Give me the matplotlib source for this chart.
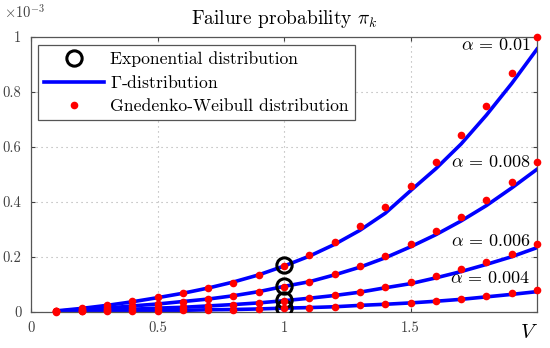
import numpy as np
import matplotlib
matplotlib.use("Agg")
import matplotlib.pyplot as plt
from matplotlib.lines import Line2D

# Values in units of 1e-3
v = [0.1, 0.2, 0.3, 0.4, 0.5, 0.6, 0.7, 0.8, 0.9, 1.0,
     1.1, 1.2, 1.3, 1.4, 1.5, 1.6, 1.7, 1.8, 1.9, 2.0]
alphas = ["0.01", "0.008", "0.006", "0.004"]

weibull_010 = [0.003, 0.013, 0.024, 0.038, 0.052, 0.067, 0.085, 0.105, 0.133, 0.165,
               0.206, 0.255, 0.313, 0.380, 0.458, 0.544, 0.643, 0.749, 0.869, 0.998]
weibull_008 = [0.002, 0.007, 0.013, 0.021, 0.028, 0.037, 0.046, 0.057, 0.072, 0.091,
               0.109, 0.136, 0.166, 0.203, 0.245, 0.293, 0.346, 0.406, 0.473, 0.544]
weibull_006 = [0.001, 0.003, 0.006, 0.009, 0.013, 0.016, 0.021, 0.026, 0.032, 0.040,
               0.050, 0.061, 0.073, 0.091, 0.107, 0.130, 0.154, 0.182, 0.210, 0.246]
weibull_004 = [0.0002, 0.001, 0.002, 0.003, 0.004, 0.005, 0.007, 0.008, 0.010, 0.013,
               0.015, 0.018, 0.024, 0.028, 0.033, 0.040, 0.047, 0.058, 0.067, 0.079]

gamma_010 = [0.003, 0.012, 0.023, 0.036, 0.051, 0.067, 0.086, 0.108, 0.134, 0.166,
             0.202, 0.245, 0.296, 0.358, 0.440, 0.520, 0.610, 0.715, 0.830, 0.955]
gamma_008 = [0.002, 0.007, 0.013, 0.021, 0.028, 0.037, 0.046, 0.058, 0.073, 0.092,
             0.109, 0.134, 0.162, 0.196, 0.236, 0.280, 0.330, 0.386, 0.450, 0.518]
gamma_006 = [0.001, 0.003, 0.006, 0.009, 0.013, 0.016, 0.021, 0.026, 0.032, 0.040,
             0.049, 0.059, 0.071, 0.087, 0.102, 0.123, 0.146, 0.172, 0.200, 0.233]
gamma_004 = [0.0002, 0.001, 0.002, 0.003, 0.004, 0.005, 0.007, 0.008, 0.010, 0.013,
             0.015, 0.018, 0.023, 0.027, 0.032, 0.038, 0.045, 0.054, 0.063, 0.073]

expo_v = [1.0, 1.0, 1.0, 1.0]
expo_p = [0.170, 0.093, 0.042, 0.012]

label_y = [0.97, 0.544, 0.257, 0.122]

plt.rcParams["font.family"] = "serif"
plt.rcParams["font.serif"] = ["cmr10"]
plt.rcParams["mathtext.fontset"] = "cm"
plt.rcParams["axes.formatter.use_mathtext"] = True

fig = plt.figure(figsize=(5.5, 3.48), dpi=100)
ax = fig.add_axes([0.0564, 0.1043, 0.92, 0.7902])

gammas = [gamma_010, gamma_008, gamma_006, gamma_004]
weibulls = [weibull_010, weibull_008, weibull_006, weibull_004]

for g in gammas:
    ax.plot(v, g, color="#0000ff", lw=2.6, zorder=2)
ax.plot(expo_v, expo_p, "o", mfc="none", mec="black", ms=11, mew=2.2, zorder=3)
for w in weibulls:
    ax.plot(v, w, "o", color="#ff0000", ms=5.5, mec="none", zorder=4, clip_on=False)

for a, y in zip(alphas, label_y):
    ax.text(1.975, y, r"$\alpha$ = " + a, ha="right", va="center", fontsize=13, zorder=5)

ax.set_xlim(0, 2)
ax.set_ylim(0, 1)
ax.set_xticks([0, 0.5, 1, 1.5])
ax.set_xticklabels(["0", "0.5", "1", "1.5"])
ax.set_yticks([0, 0.2, 0.4, 0.6, 0.8, 1])
ax.set_yticklabels(["0", "0.2", "0.4", "0.6", "0.8", "1"])
ax.tick_params(direction="in", length=3, labelsize=10.5, colors="#404040",
               top=True, right=True, pad=7)
ax.grid(True, linestyle=(0, (1, 3.5)), color="#aaaaaa", lw=0.8)
for s in ax.spines.values():
    s.set_color("#555555")
    s.set_linewidth(0.9)

ax.set_title(r"Failure probability $\pi_k$", fontsize=14, pad=9)
fig.text(0.978, 0.03, r"$V$", fontsize=15, ha="right")
fig.text(0.008, 0.95, r"$\times 10^{-3}$", fontsize=10.5, color="#404040")

handles = [
    Line2D([], [], ls="none", marker="o", mfc="none", mec="black", ms=11, mew=2.2),
    Line2D([], [], color="#0000ff", lw=2.6),
    Line2D([], [], ls="none", marker="o", color="#ff0000", mec="none", ms=5.5),
]
labels = ["Exponential distribution", r"$\Gamma$-distribution", "Gnedenko-Weibull distribution"]
leg = ax.legend(handles, labels, loc="upper left", bbox_to_anchor=(0.014, 0.97),
                fontsize=12.7, fancybox=False, framealpha=1, edgecolor="#555555",
                handlelength=3.4, borderpad=0.35, labelspacing=0.42, handletextpad=0.35,
                borderaxespad=0)
leg.get_frame().set_linewidth(0.9)

fig.savefig("out.png", dpi=100)
